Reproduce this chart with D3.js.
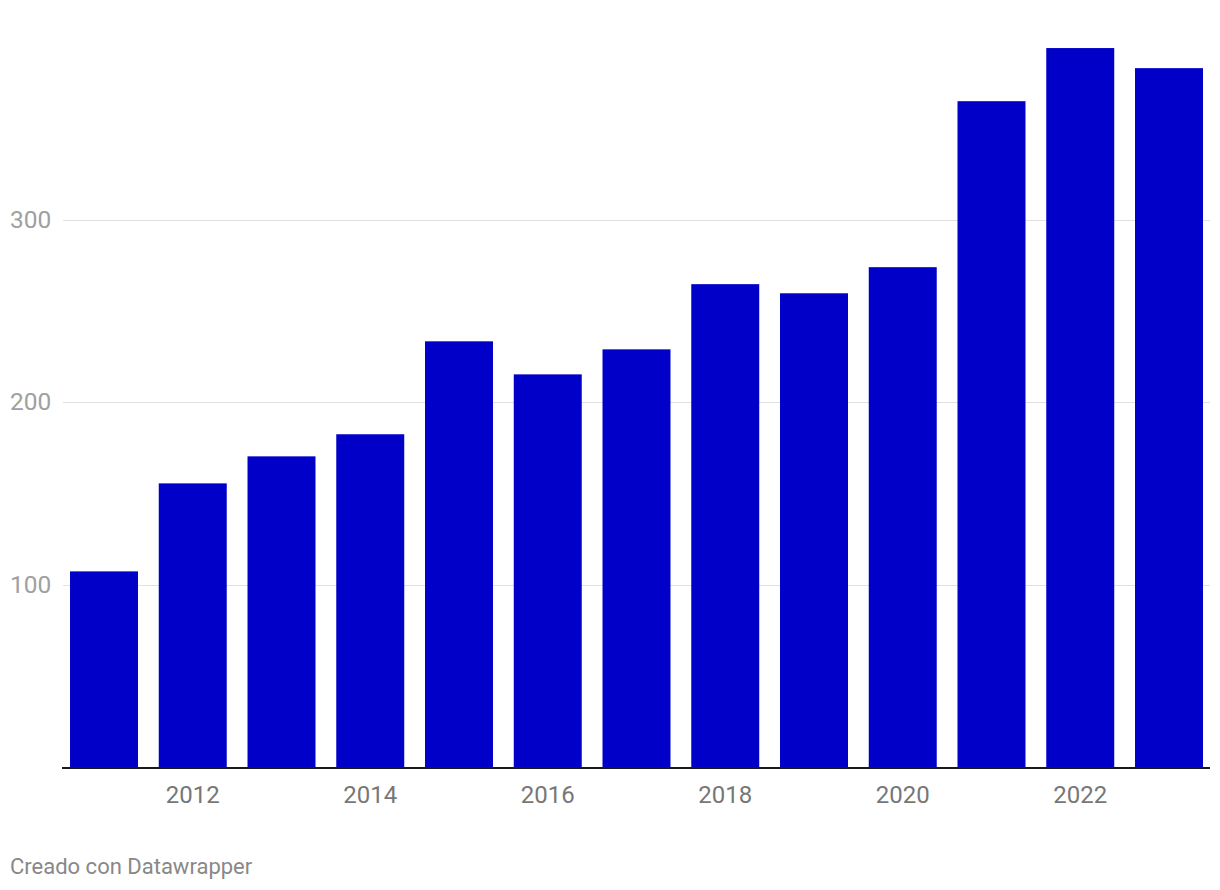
<!DOCTYPE html>
<html><head><meta charset="utf-8">
<script src="https://cdn.jsdelivr.net/npm/d3@7"></script>
<style>body{margin:0;background:#fff;font-family:Roboto,sans-serif}</style>
</head><body>
<svg id="c" width="1220" height="890"></svg>
<script>
const years = [2011,2012,2013,2014,2015,2016,2017,2018,2019,2020,2021,2022,2023];
const values = [107.4,155.6,170.4,182.5,233.4,215.3,229.0,264.7,259.7,274.0,364.9,394.0,383.0];
const yTicks = [100,200,300];
const xTickYears = [2012,2014,2016,2018,2020,2022];
const footer = "Creado con Datawrapper";

const svg = d3.select("#c");
const mLeft = 63, mRight = 1210, mBottom = 767.5;
const x = d3.scaleBand().domain(years).range([mLeft, mRight]).paddingInner(0.234).paddingOuter(0.079);
const y = d3.scaleLinear().domain([0, 100]).range([mBottom, mBottom - 182.6]);

// gridlines
const g = svg.append("g");
g.selectAll("line.grid").data(yTicks).join("line")
  .attr("x1", mLeft).attr("x2", mRight)
  .attr("y1", d => Math.round(y(d)) + 0.5).attr("y2", d => Math.round(y(d)) + 0.5)
  .attr("stroke", "#e0e0e0").attr("stroke-width", 1);
g.selectAll("text.yl").data(yTicks).join("text")
  .attr("x", 10).attr("y", d => y(d) + 8)
  .attr("font-size", 24.5).attr("fill", "#a0a0a0")
  .text(d => d);

// bars
svg.append("g").selectAll("rect").data(years).join("rect")
  .attr("x", d => x(d)).attr("width", x.bandwidth())
  .attr("y", (d, i) => y(values[i])).attr("height", (d, i) => mBottom - y(values[i]))
  .attr("fill", "#0000c8");

// baseline
svg.append("line").attr("x1", mLeft - 1).attr("x2", mRight)
  .attr("y1", mBottom + 0.5).attr("y2", mBottom + 0.5)
  .attr("stroke", "#1a1a1a").attr("stroke-width", 2);

// x labels
const xAxis = d3.axisBottom(x).tickValues(xTickYears).tickSize(0).tickPadding(0);
const ax = svg.append("g").attr("transform", `translate(0,${mBottom})`).call(xAxis);
ax.select(".domain").remove();
ax.selectAll("text").attr("font-size", 24).attr("fill", "#777777")
  .attr("font-family", "Roboto, sans-serif").attr("dy", null).attr("y", 35.5);

svg.append("text").attr("x", 10).attr("y", 874)
  .attr("font-size", 22).attr("fill", "#888888").text(footer);
</script>
</body></html>
